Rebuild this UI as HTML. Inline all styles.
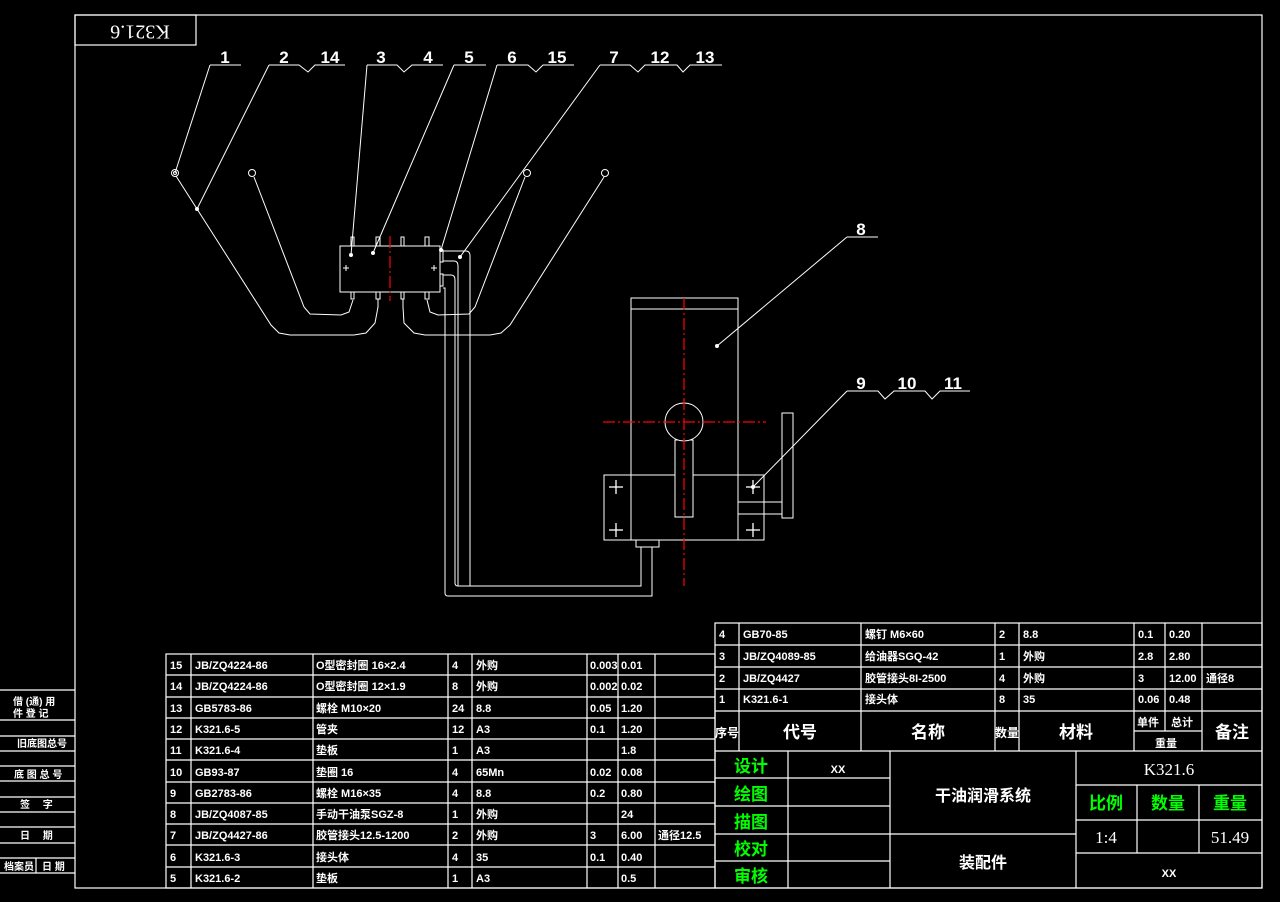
<!DOCTYPE html>
<html><head><meta charset="utf-8"><style>
html,body{margin:0;padding:0;background:#000;}
svg{display:block;}
text{font-family:"Liberation Sans","Noto Sans CJK SC",sans-serif;fill:#fff;font-weight:bold;}
.s{font-size:11px;}
g.g text{fill:#00ff00;font-size:17px;}
.b{font-size:17px;}
</style></head><body>
<svg width="1280" height="902" viewBox="0 0 1280 902" xmlns="http://www.w3.org/2000/svg">
<rect width="1280" height="902" fill="#000"/>
<g stroke="#fff" stroke-width="1.2" fill="none">
<rect x="75" y="15" width="1187" height="873"/>
<rect x="75" y="15" width="121" height="30"/>
<line x1="0" y1="690" x2="75" y2="690"/><line x1="0" y1="720" x2="75" y2="720"/>
<line x1="0" y1="736" x2="75" y2="736"/><line x1="0" y1="751" x2="75" y2="751"/>
<line x1="0" y1="766" x2="75" y2="766"/><line x1="0" y1="781" x2="75" y2="781"/>
<line x1="0" y1="797" x2="75" y2="797"/><line x1="0" y1="812" x2="75" y2="812"/>
<line x1="0" y1="827" x2="75" y2="827"/><line x1="0" y1="843" x2="75" y2="843"/>
<line x1="0" y1="858" x2="75" y2="858"/><line x1="0" y1="873" x2="75" y2="873"/>
<line x1="36" y1="858" x2="36" y2="873"/>
</g>
<g>
<text x="13" y="705" style="font-size:10px">借 (通) 用</text>
<text x="13" y="717" style="font-size:10px">件 登 记</text>
<text x="17" y="747" style="font-size:10px">旧底图总号</text>
<text x="14" y="778" style="font-size:10px">底 图 总 号</text>
<text x="20" y="808" style="font-size:10px">签　 字</text>
<text x="20" y="839" style="font-size:10px">日　 期</text>
<text x="4" y="870" style="font-size:10px">档案员</text><text x="42" y="870" style="font-size:10px">日 期</text>
</g>
<text x="0" y="0" transform="translate(140,30) rotate(180)" text-anchor="middle" dominant-baseline="middle" style="font-size:20px;font-weight:normal;font-family:'Liberation Serif',serif">K321.6</text>

<g stroke="#fff" stroke-width="1" fill="none">
<polyline points="210,65 241,65"/>
<polyline points="269,65 299,65 308,72 315,65 345,65"/>
<polyline points="367,65 397,65 404,72 412,65 443,65"/>
<polyline points="454,65 486,65"/>
<polyline points="497,65 528,65 536,72 543,65 574,65"/>
<polyline points="600,65 630,65 638,72 645,65 677,65 683,72 690,65 722,65"/>
<polyline points="847,237 878,237"/>
<polyline points="847,391 878,391 885,399 894,391 925,391 932,399 940,391 970,391"/>
<line x1="210" y1="65" x2="175" y2="173"/>
<line x1="269" y1="65" x2="197" y2="209"/>
<line x1="367" y1="65" x2="351" y2="255"/>
<line x1="454" y1="65" x2="373" y2="253"/>
<line x1="497" y1="65" x2="441" y2="250"/>
<line x1="600" y1="65" x2="460" y2="257"/>
<line x1="847" y1="237" x2="717" y2="346"/>
<line x1="847" y1="391" x2="753" y2="487"/>
<circle cx="175" cy="173" r="3.5"/><circle cx="175" cy="173" r="1.5"/>
<circle cx="252" cy="173" r="3.5"/><circle cx="527" cy="173" r="3.5"/><circle cx="605" cy="173" r="3.5"/>
<polyline points="176,176 271,325 279,333 290,335 354,335 366,333 375,323 378,307 378,299"/>
<polyline points="254,177 304,307 310,314 341,315 349,312 353,300"/>
<polyline points="525,177 475,307 469,314 438,315 430,312 427,300"/>
<polyline points="604,177 510,325 501,333 490,335 425,335 414,333 404,323 403,307 403,299"/>
<rect x="340" y="246" width="100" height="46"/>
<rect x="351" y="237" width="3" height="9"/><rect x="376" y="237" width="4" height="9"/>
<rect x="401" y="237" width="3" height="9"/><rect x="425" y="237" width="4" height="9"/>
<rect x="351" y="292" width="3" height="7"/><rect x="376" y="292" width="4" height="7"/>
<rect x="401" y="292" width="3" height="7"/><rect x="425" y="292" width="4" height="7"/>
<line x1="343" y1="268" x2="349" y2="268"/><line x1="346" y1="265" x2="346" y2="271"/>
<line x1="431" y1="268" x2="437" y2="268"/><line x1="434" y1="265" x2="434" y2="271"/>
<rect x="440" y="250" width="3" height="12"/><rect x="440" y="274" width="3" height="12"/>
<path d="M443,251 H466 Q470,251 470,256 V586"/>
<path d="M443,261 H454 Q458,261 458,266 V586"/>
<path d="M443,275 H451 Q455,275 455,280 V583 Q455,586 458,586 H641 V547"/>
<path d="M443,288 H445 V593 Q445,596 448,596 H652 V547"/>
<rect x="631" y="298" width="107" height="242"/>
<line x1="631" y1="309" x2="738" y2="309"/>
<rect x="604" y="475" width="160" height="65"/>
<line x1="631" y1="475" x2="631" y2="540"/><line x1="738" y1="475" x2="738" y2="540"/>
<rect x="675" y="440" width="18" height="77" fill="#000"/>
<circle cx="684" cy="422" r="19" fill="#000"/>
<rect x="636" y="540" width="23" height="7"/>
<rect x="782" y="413" width="11" height="105"/>
<line x1="738" y1="502" x2="782" y2="502"/><line x1="738" y1="514" x2="782" y2="514"/>
<g stroke-width="1.3">
<line x1="609" y1="487" x2="623" y2="487"/><line x1="616" y1="480" x2="616" y2="494"/>
<line x1="609" y1="530" x2="623" y2="530"/><line x1="616" y1="523" x2="616" y2="537"/>
<line x1="746" y1="487" x2="760" y2="487"/><line x1="753" y1="480" x2="753" y2="494"/>
<line x1="746" y1="530" x2="760" y2="530"/><line x1="753" y1="523" x2="753" y2="537"/>
</g>
</g>
<g fill="#fff">
<circle cx="197" cy="209" r="2"/><circle cx="351" cy="255" r="2"/><circle cx="373" cy="253" r="2"/>
<circle cx="441" cy="250" r="2"/><circle cx="460" cy="257" r="2"/><circle cx="717" cy="346" r="2"/><circle cx="753" cy="487" r="2"/>
</g>
<g stroke="#ff0000" stroke-width="1.2" stroke-dasharray="12,3,2,3">
<line x1="390" y1="236" x2="390" y2="301"/>
<line x1="684" y1="298" x2="684" y2="586"/>
<line x1="603" y1="422" x2="766" y2="422"/>
</g>
<g style="font-size:17px;font-weight:normal;font-family:'Liberation Serif',serif">
<text x="225" y="63" text-anchor="middle">1</text>
<text x="284" y="63" text-anchor="middle">2</text><text x="330" y="63" text-anchor="middle">14</text>
<text x="381" y="63" text-anchor="middle">3</text><text x="428" y="63" text-anchor="middle">4</text>
<text x="469" y="63" text-anchor="middle">5</text>
<text x="512" y="63" text-anchor="middle">6</text><text x="557" y="63" text-anchor="middle">15</text>
<text x="614" y="63" text-anchor="middle">7</text><text x="660" y="63" text-anchor="middle">12</text><text x="705" y="63" text-anchor="middle">13</text>
<text x="861" y="235" text-anchor="middle">8</text>
<text x="861" y="389" text-anchor="middle">9</text><text x="907" y="389" text-anchor="middle">10</text><text x="953" y="389" text-anchor="middle">11</text>
</g>

<g stroke="#fff" stroke-width="1.2" fill="none">
<rect x="166" y="654" width="549" height="234"/>
<line x1="191" y1="654" x2="191" y2="888"/><line x1="313" y1="654" x2="313" y2="888"/>
<line x1="448" y1="654" x2="448" y2="888"/><line x1="472" y1="654" x2="472" y2="888"/>
<line x1="587" y1="654" x2="587" y2="888"/><line x1="618" y1="654" x2="618" y2="888"/>
<line x1="655" y1="654" x2="655" y2="888"/>
<line x1="166" y1="675" x2="715" y2="675"/><line x1="166" y1="697" x2="715" y2="697"/>
<line x1="166" y1="718" x2="715" y2="718"/><line x1="166" y1="739" x2="715" y2="739"/>
<line x1="166" y1="760" x2="715" y2="760"/><line x1="166" y1="782" x2="715" y2="782"/>
<line x1="166" y1="803" x2="715" y2="803"/><line x1="166" y1="824" x2="715" y2="824"/>
<line x1="166" y1="845" x2="715" y2="845"/><line x1="166" y1="867" x2="715" y2="867"/>
</g>
<g class="s">
<text x="170" y="669">15</text><text x="195" y="669">JB/ZQ4224-86</text><text x="316" y="669">O型密封圈 16×2.4</text><text x="452" y="669">4</text><text x="476" y="669">外购</text><text x="590" y="669">0.003</text><text x="621" y="669">0.01</text>
<text x="170" y="690">14</text><text x="195" y="690">JB/ZQ4224-86</text><text x="316" y="690">O型密封圈 12×1.9</text><text x="452" y="690">8</text><text x="476" y="690">外购</text><text x="590" y="690">0.002</text><text x="621" y="690">0.02</text>
<text x="170" y="712">13</text><text x="195" y="712">GB5783-86</text><text x="316" y="712">螺栓 M10×20</text><text x="452" y="712">24</text><text x="476" y="712">8.8</text><text x="590" y="712">0.05</text><text x="621" y="712">1.20</text>
<text x="170" y="733">12</text><text x="195" y="733">K321.6-5</text><text x="316" y="733">管夹</text><text x="452" y="733">12</text><text x="476" y="733">A3</text><text x="590" y="733">0.1</text><text x="621" y="733">1.20</text>
<text x="170" y="754">11</text><text x="195" y="754">K321.6-4</text><text x="316" y="754">垫板</text><text x="452" y="754">1</text><text x="476" y="754">A3</text><text x="621" y="754">1.8</text>
<text x="170" y="776">10</text><text x="195" y="776">GB93-87</text><text x="316" y="776">垫圈 16</text><text x="452" y="776">4</text><text x="476" y="776">65Mn</text><text x="590" y="776">0.02</text><text x="621" y="776">0.08</text>
<text x="170" y="797">9</text><text x="195" y="797">GB2783-86</text><text x="316" y="797">螺栓 M16×35</text><text x="452" y="797">4</text><text x="476" y="797">8.8</text><text x="590" y="797">0.2</text><text x="621" y="797">0.80</text>
<text x="170" y="818">8</text><text x="195" y="818">JB/ZQ4087-85</text><text x="316" y="818">手动干油泵SGZ-8</text><text x="452" y="818">1</text><text x="476" y="818">外购</text><text x="621" y="818">24</text>
<text x="170" y="839">7</text><text x="195" y="839">JB/ZQ4427-86</text><text x="316" y="839">胶管接头12.5-1200</text><text x="452" y="839">2</text><text x="476" y="839">外购</text><text x="590" y="839">3</text><text x="621" y="839">6.00</text><text x="658" y="839">通径12.5</text>
<text x="170" y="861">6</text><text x="195" y="861">K321.6-3</text><text x="316" y="861">接头体</text><text x="452" y="861">4</text><text x="476" y="861">35</text><text x="590" y="861">0.1</text><text x="621" y="861">0.40</text>
<text x="170" y="882">5</text><text x="195" y="882">K321.6-2</text><text x="316" y="882">垫板</text><text x="452" y="882">1</text><text x="476" y="882">A3</text><text x="621" y="882">0.5</text>
</g>

<g stroke="#fff" stroke-width="1.2" fill="none">
<rect x="715" y="623" width="547" height="265"/>
<line x1="715" y1="645" x2="1262" y2="645"/><line x1="715" y1="667" x2="1262" y2="667"/>
<line x1="715" y1="689" x2="1262" y2="689"/><line x1="715" y1="711" x2="1262" y2="711"/>
<line x1="715" y1="751" x2="1262" y2="751"/>
<line x1="739" y1="623" x2="739" y2="751"/><line x1="861" y1="623" x2="861" y2="751"/>
<line x1="995" y1="623" x2="995" y2="751"/><line x1="1019" y1="623" x2="1019" y2="751"/>
<line x1="1134" y1="623" x2="1134" y2="751"/><line x1="1165" y1="623" x2="1165" y2="731"/>
<line x1="1202" y1="623" x2="1202" y2="751"/><line x1="1134" y1="731" x2="1202" y2="731"/>
<line x1="788" y1="751" x2="788" y2="888"/><line x1="890" y1="751" x2="890" y2="888"/>
<line x1="1076" y1="751" x2="1076" y2="888"/>
<line x1="715" y1="778" x2="890" y2="778"/><line x1="715" y1="806" x2="890" y2="806"/>
<line x1="715" y1="834" x2="1076" y2="834"/><line x1="715" y1="861" x2="890" y2="861"/>
<line x1="1076" y1="785" x2="1262" y2="785"/><line x1="1076" y1="820" x2="1262" y2="820"/>
<line x1="1076" y1="853" x2="1262" y2="853"/>
<line x1="1137" y1="785" x2="1137" y2="853"/><line x1="1199" y1="785" x2="1199" y2="853"/>
</g>
<g class="s">
<text x="719" y="638">4</text><text x="743" y="638">GB70-85</text><text x="865" y="638">螺钉 M6×60</text><text x="999" y="638">2</text><text x="1023" y="638">8.8</text><text x="1138" y="638">0.1</text><text x="1169" y="638">0.20</text>
<text x="719" y="660">3</text><text x="743" y="660">JB/ZQ4089-85</text><text x="865" y="660">给油器SGQ-42</text><text x="999" y="660">1</text><text x="1023" y="660">外购</text><text x="1138" y="660">2.8</text><text x="1169" y="660">2.80</text>
<text x="719" y="682">2</text><text x="743" y="682">JB/ZQ4427</text><text x="865" y="682">胶管接头8I-2500</text><text x="999" y="682">4</text><text x="1023" y="682">外购</text><text x="1138" y="682">3</text><text x="1169" y="682">12.00</text><text x="1206" y="682">通径8</text>
<text x="719" y="703">1</text><text x="743" y="703">K321.6-1</text><text x="865" y="703">接头体</text><text x="999" y="703">8</text><text x="1023" y="703">35</text><text x="1138" y="703">0.06</text><text x="1169" y="703">0.48</text>
<text x="1137" y="726">单件</text><text x="1171" y="726">总计</text><text x="1155" y="747">重量</text>
</g>
<g class="b">
<text x="727" y="737" text-anchor="middle" style="font-size:12px">序号</text>
<text x="800" y="738" text-anchor="middle">代号</text>
<text x="928" y="738" text-anchor="middle">名称</text>
<text x="1007" y="737" text-anchor="middle" style="font-size:12px">数量</text>
<text x="1076" y="738" text-anchor="middle">材料</text>
<text x="1232" y="738" text-anchor="middle">备注</text>
<text x="983" y="801" text-anchor="middle" style="font-size:16px">干油润滑系统</text>
<text x="983" y="868" text-anchor="middle" style="font-size:16px">装配件</text>
<text x="1169" y="775" text-anchor="middle" style="font-weight:normal;font-family:'Liberation Serif',serif;font-size:17px">K321.6</text>
<text x="1106" y="843" text-anchor="middle" style="font-weight:normal;font-family:'Liberation Serif',serif">1:4</text>
<text x="1230" y="843" text-anchor="middle" style="font-weight:normal;font-family:'Liberation Serif',serif">51.49</text>
</g>
<g class="s"><text x="838" y="773" text-anchor="middle">XX</text><text x="1169" y="877" text-anchor="middle">XX</text></g>
<g class="g">
<text x="751" y="772" text-anchor="middle">设计</text><text x="751" y="800" text-anchor="middle">绘图</text>
<text x="751" y="828" text-anchor="middle">描图</text><text x="751" y="855" text-anchor="middle">校对</text>
<text x="751" y="882" text-anchor="middle">审核</text>
<text x="1106" y="809" text-anchor="middle">比例</text><text x="1168" y="809" text-anchor="middle">数量</text><text x="1230" y="809" text-anchor="middle">重量</text>
</g>
</svg>
</body></html>
